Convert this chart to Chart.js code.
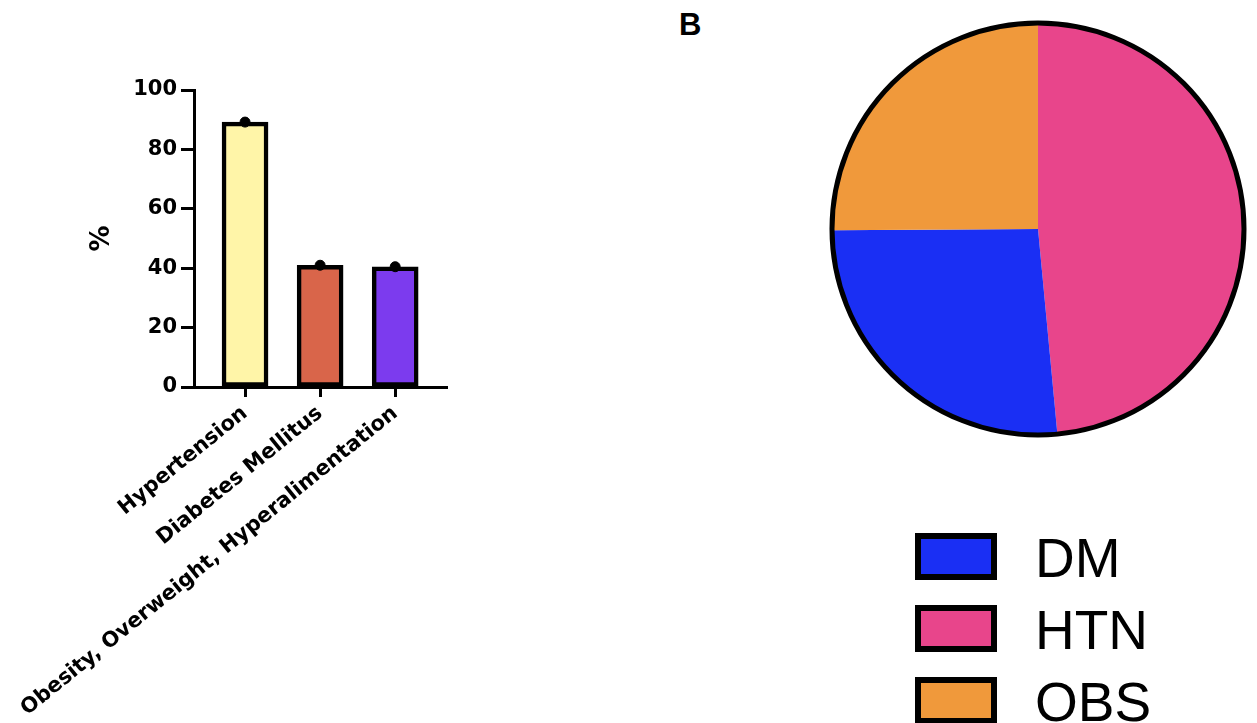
<!DOCTYPE html>
<html>
<head>
<meta charset="utf-8">
<script src="https://cdn.jsdelivr.net/npm/chart.js@4"></script>
<style>
  body { margin: 0; background: #fff; width: 1257px; height: 723px; position: relative; overflow: hidden; }
  #barChart { position: absolute; left: 0; top: 0; }
  #pieChart { position: absolute; left: 818px; top: 20px; }
  #panelB { position: absolute; left: 679px; top: 7px; font: bold 31px "Liberation Sans", Arial, sans-serif; }
  #legend { position: absolute; left: 915px; top: 533px; font-family: "Liberation Sans", Arial, sans-serif; }
  .legRow { display: flex; align-items: center; height: 47px; margin-bottom: 25px; }
  .legBox { width: 82px; height: 47px; box-sizing: border-box; border: 6px solid #000; }
  .legText { font-size: 55px; margin-left: 38px; line-height: 47px; padding-top: 4px; }
</style>
</head>
<body>
<canvas id="barChart" width="470" height="723"></canvas>
<div id="panelB">B</div>
<canvas id="pieChart" width="440" height="418"></canvas>
<div id="legend"></div>
<script>
//----------data for panel A (bar chart)
const categories = ['Hypertension', 'Diabetes Mellitus', 'Obesity, Overweight, Hyperalimentation'];
const prevalence = [89.2, 41.0, 40.5];
const barColors = ['#FFF5A8', '#D9654A', '#7C3BEE'];
const yTicks = [0, 20, 40, 60, 80, 100];

//----------data for panel B (pie chart)
const pieLabels = ['HTN', 'DM', 'OBS'];
const pieShares = [48.5, 26.4, 25.1];
const pieColors = ['#E8458B', '#1A2FF4', '#F0993B'];
const legendOrder = ['DM', 'HTN', 'OBS'];

Chart.defaults.font.family = 'DejaVu Sans';
Chart.defaults.color = '#000';

// bar chart - numeric x axis so the axis line can run past the outer bars
var barCtx = document.getElementById('barChart').getContext('2d');
var barChart = new Chart(barCtx, {
    type: 'bar',
    data: {
        datasets: [{
            type: 'scatter',
            data: prevalence.map((v, i) => ({x: i, y: v})),
            backgroundColor: '#000',
            borderColor: '#000',
            pointRadius: 5,
            order: 1
        }, {
            data: prevalence.map((v, i) => ({x: i, y: v})),
            backgroundColor: barColors,
            borderColor: '#000',
            borderWidth: 4.5,
            borderSkipped: false,
            barThickness: 46,
            order: 2
        }]
    },
    options: {
        responsive: false,
        animation: false,
        layout: { padding: { left: 83, top: 90, right: 23, bottom: 0 } },
        plugins: { legend: { display: false }, tooltip: { enabled: false } },
        scales: {
            x: {
                type: 'linear',
                offset: false,
                min: -0.68,
                max: 2.69,
                afterBuildTicks: (scale) => { scale.ticks = categories.map((c, i) => ({value: i})); },
                afterFit: (scale) => { scale.height = 336; },
                grid: { offset: false, drawOnChartArea: false, drawTicks: true, tickLength: 10, tickWidth: 3, tickColor: '#000' },
                border: { color: '#000', width: 3 },
                ticks: {
                    autoSkip: false,
                    minRotation: 39,
                    maxRotation: 39,
                    padding: 4,
                    font: { size: 21, weight: 'bold' },
                    callback: function(value) { return categories[value]; }
                }
            },
            y: {
                min: 0,
                max: 100,
                afterBuildTicks: (scale) => { scale.ticks = yTicks.map(v => ({value: v})); },
                afterFit: (scale) => { scale.width = 111; },
                grid: { drawOnChartArea: false, drawTicks: true, tickLength: 13, tickWidth: 3, tickColor: '#000' },
                border: { color: '#000', width: 3 },
                ticks: { padding: 4, font: { size: 21, weight: 'bold' } },
                title: { display: true, text: '%', font: { size: 26, weight: 'bold' }, padding: { top: 4, bottom: 0 } }
            }
        }
    }
});

// outline only round the outside of the pie, no lines between slices
const pieOutline = {
    id: 'pieOutline',
    afterDatasetsDraw(chart) {
        const arc = chart.getDatasetMeta(0).data[0];
        const ctx = chart.ctx;
        ctx.save();
        ctx.beginPath();
        ctx.arc(arc.x, arc.y, arc.outerRadius, 0, Math.PI * 2);
        ctx.lineWidth = 5;
        ctx.strokeStyle = '#000';
        ctx.stroke();
        ctx.restore();
    }
};

var pieCtx = document.getElementById('pieChart').getContext('2d');
var pieChart = new Chart(pieCtx, {
    type: 'pie',
    data: {
        labels: pieLabels,
        datasets: [{
            data: pieShares,
            backgroundColor: pieColors,
            borderWidth: 0
        }]
    },
    options: {
        responsive: false,
        animation: false,
        layout: { padding: 3 },
        plugins: { legend: { display: false }, tooltip: { enabled: false } }
    },
    plugins: [pieOutline]
});

// legend for the pie, built from the same arrays
const legend = document.getElementById('legend');
legendOrder.forEach((name) => {
    const row = document.createElement('div');
    row.className = 'legRow';
    const box = document.createElement('div');
    box.className = 'legBox';
    box.style.background = pieColors[pieLabels.indexOf(name)];
    const txt = document.createElement('div');
    txt.className = 'legText';
    txt.textContent = name;
    row.appendChild(box);
    row.appendChild(txt);
    legend.appendChild(row);
});
</script>
</body>
</html>
